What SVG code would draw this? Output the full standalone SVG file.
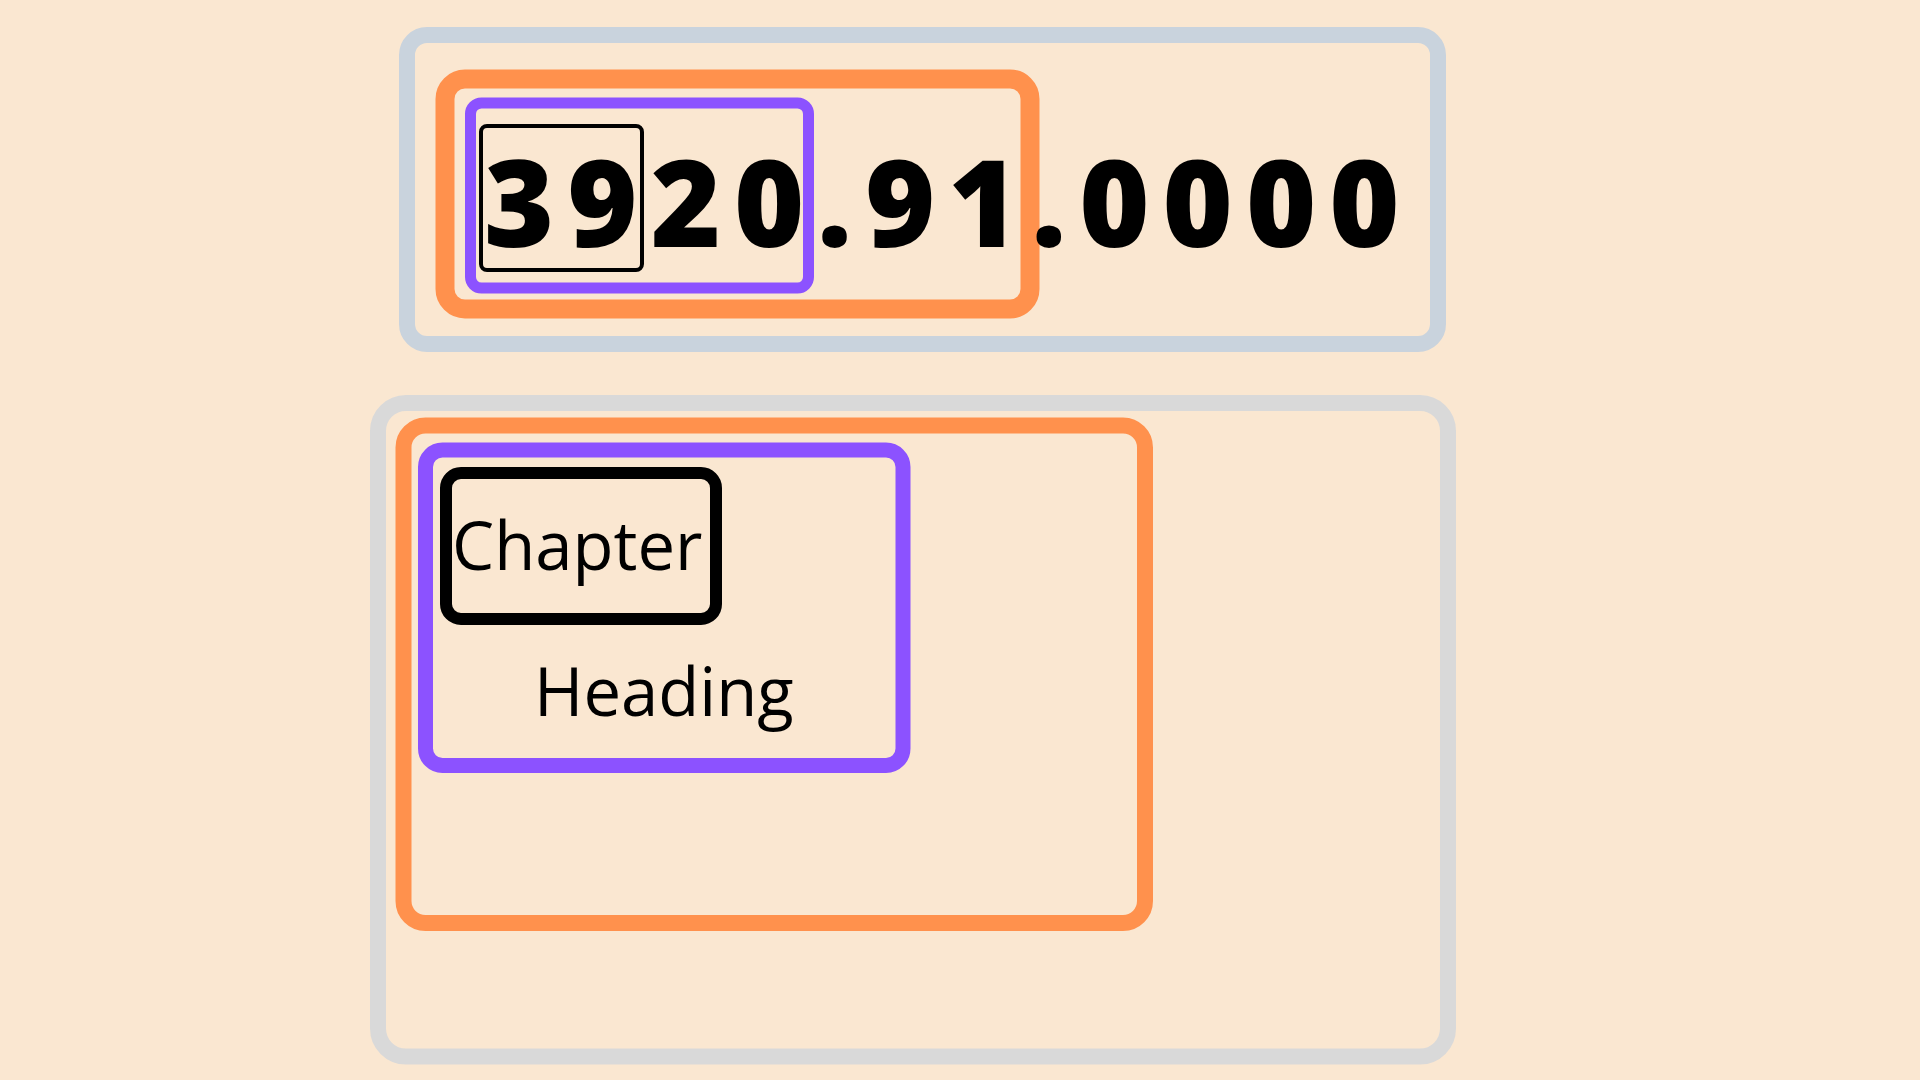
<svg xmlns="http://www.w3.org/2000/svg" width="1920" height="1080" viewBox="0 0 1920 1080">
  <style>
    .box { fill: none; }
    .gray1 { stroke: #C9D3DD; stroke-width: 16; }
    .gray2 { stroke: #D9D9D9; stroke-width: 16; }
    .orange { stroke: #FF914D; }
    .purple { stroke: #8C52FF; }
    .black { stroke: #000000; }
    .num { font-family: "Open Sans", "Liberation Sans", sans-serif; font-weight: 800; font-size: 120px; letter-spacing: 13px; fill: #000000; }
    .label { font-family: "Open Sans", "Liberation Sans", sans-serif; font-weight: 400; font-size: 67px; fill: #000000; }
  </style>
  <rect x="0" y="0" width="1920" height="1080" fill="#FAE7D1"/>

  <g id="code-example">
    <g id="outer-code-frame">
      <rect class="box gray1" x="407" y="35" width="1031" height="309" rx="20"/>
    </g>
    <g id="code-section-frame">
      <rect class="box orange" x="445" y="79" width="585" height="230" rx="20" stroke-width="19"/>
    </g>
    <g id="code-class-frame">
      <rect class="box purple" x="470.5" y="103" width="338" height="185" rx="11" stroke-width="11"/>
    </g>
    <g id="code-digits-frame">
      <rect class="box black" x="481" y="126" width="161" height="144" rx="6" stroke-width="4"/>
    </g>
    <g id="code-text">
      <text class="num" x="484" y="247">3920.91.0000</text>
    </g>
  </g>

  <g id="heading-example">
    <g id="outer-heading-frame">
      <rect class="box gray2" x="378" y="403" width="1070" height="653.5" rx="28"/>
    </g>
    <g id="heading-section-frame">
      <rect class="box orange" x="403.5" y="425.5" width="741.5" height="497.5" rx="22" stroke-width="16"/>
    </g>
    <g id="heading-class-frame">
      <rect class="box purple" x="425.5" y="450" width="477.5" height="315.5" rx="17" stroke-width="15"/>
    </g>
    <g id="chapter-box">
      <rect class="box black" x="446" y="473" width="270" height="146" rx="15" stroke-width="12"/>
      <text class="label" x="452" y="570">Chapter</text>
    </g>
    <g id="heading-label">
      <text class="label" x="534" y="716">Heading</text>
    </g>
  </g>

  <g id="connectors"/>
</svg>
